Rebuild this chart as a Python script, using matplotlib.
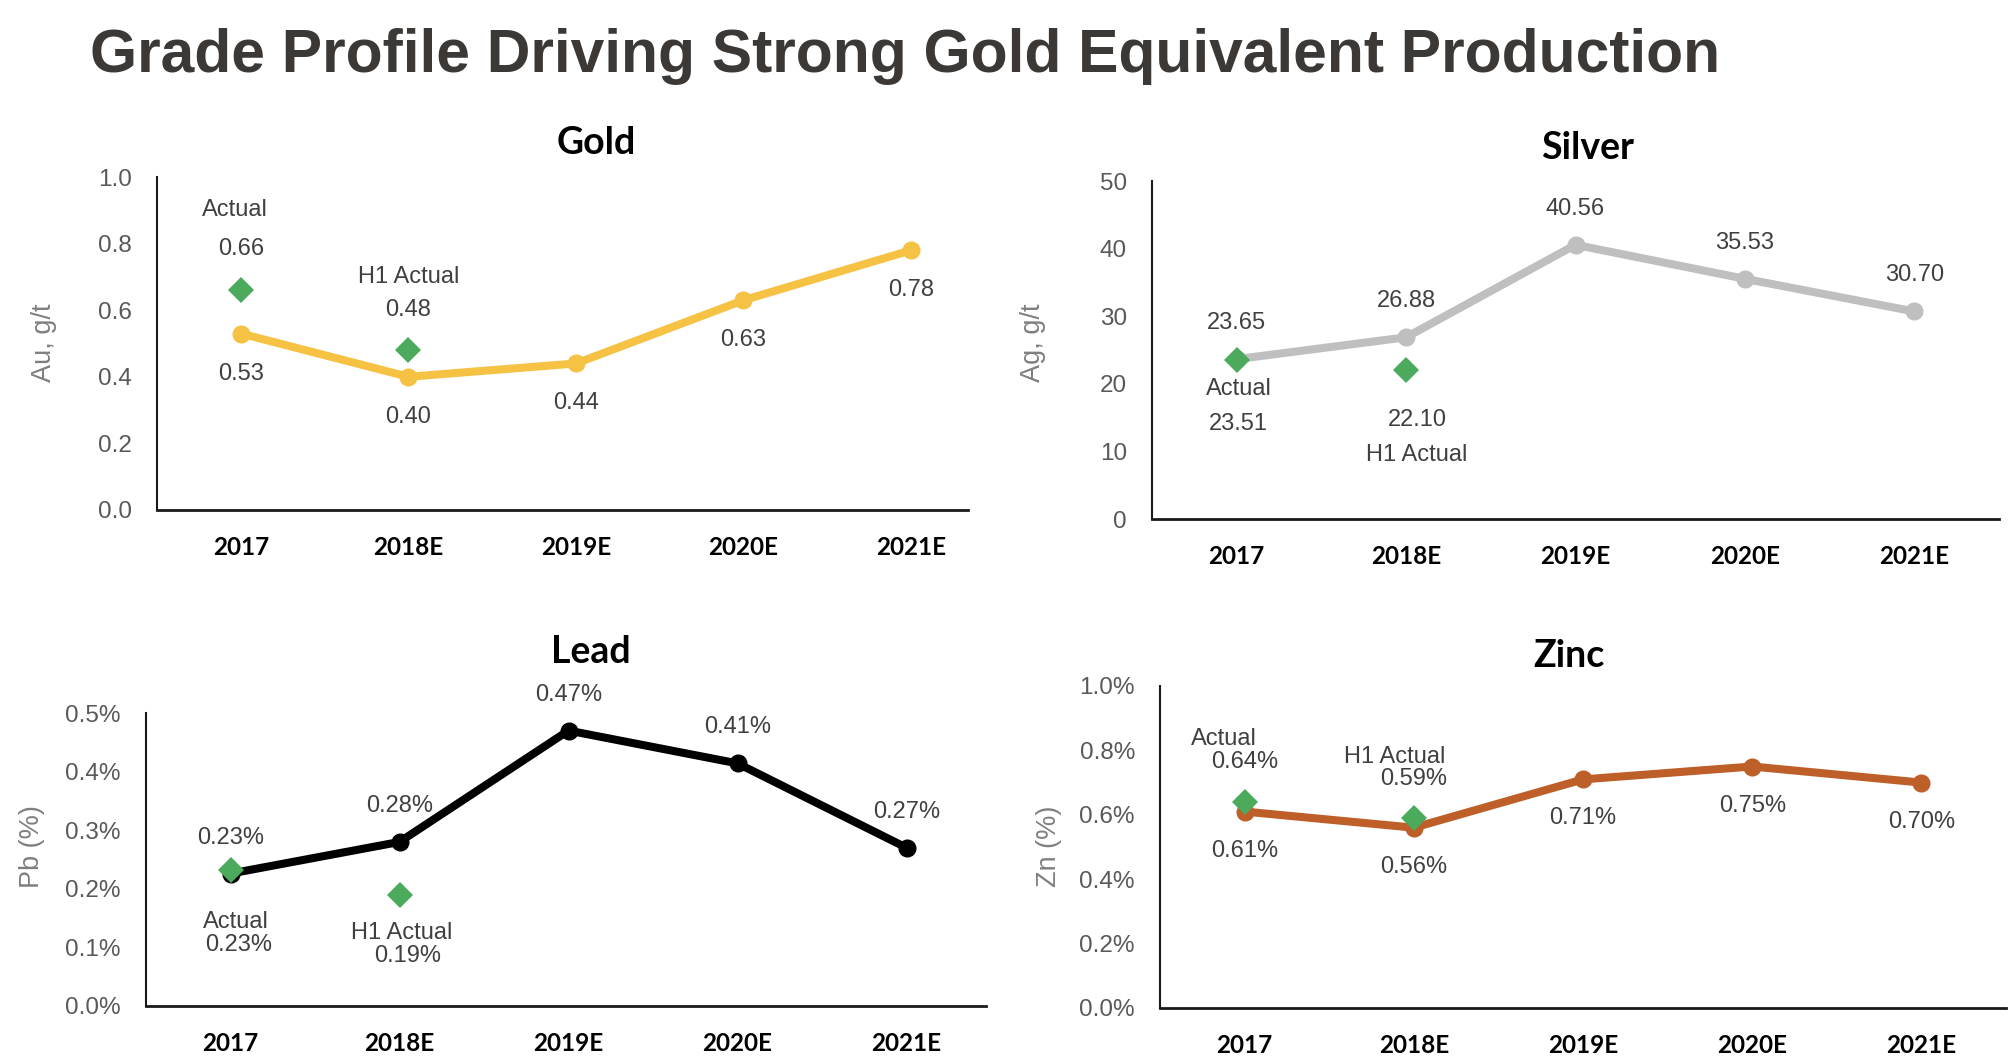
import matplotlib
matplotlib.use('Agg')
import matplotlib.pyplot as plt
from matplotlib.ticker import FixedLocator, FuncFormatter

# ---------------- data ----------------
categories = ['2017', '2018E', '2019E', '2020E', '2021E']

gold_values = [0.53, 0.40, 0.44, 0.63, 0.78]
gold_actual = [0.66, 0.48]

silver_values = [23.65, 26.88, 40.56, 35.53, 30.70]
silver_actual = [23.51, 22.10]

lead_values = [0.226, 0.28, 0.47, 0.414, 0.27]
lead_actual = [0.232, 0.19]

zinc_values = [0.61, 0.56, 0.71, 0.75, 0.70]
zinc_actual = [0.64, 0.59]

actual_names = ['Actual', 'H1 Actual']

gold_yticks = [0.0, 0.2, 0.4, 0.6, 0.8, 1.0]
silver_yticks = [0, 10, 20, 30, 40, 50]
lead_yticks = [0.0, 0.1, 0.2, 0.3, 0.4, 0.5]
zinc_yticks = [0.0, 0.2, 0.4, 0.6, 0.8, 1.0]

# ---------------- style ----------------
W, H = 2014, 1062
fig = plt.figure(figsize=(W / 100, H / 100), dpi=100)
fig.patch.set_facecolor('white')

TITLE_FONT = ['Liberation Sans', 'DejaVu Sans']
SUB_FONT = ['Lato', 'DejaVu Sans']
BODY_FONT = ['Liberation Sans', 'DejaVu Sans']
GREEN = '#4BAA5B'
LABEL_COLOR = '#404040'
TICK_COLOR = '#595959'


def rect(l, r, t, b):
    return [l / W, 1 - b / H, (r - l) / W, (b - t) / H]


fig.text(90 / W, 1 - 72 / H, 'Grade Profile Driving Strong Gold Equivalent Production',
         family=TITLE_FONT, fontweight='bold', fontsize=43.6, color='#3B3835',
         ha='left', va='baseline')

panels = [
    dict(title='Gold', ylabel='Au, g/t', values=gold_values, actual=gold_actual,
         color='#F6C244', yticks=gold_yticks, ylim=(0, 1.0), pct=False, dec=2, tdec=1,
         box=(157, 968, 177, 510), xmax=4.34, title_xy=(596, 143), ylab_xy=(44, 343),
         val_off=[(0, -40)] * 5,
         act_val_off=[(0, 41), (0, 40)], act_name_off=[(-6, 80), (0, 73)]),
    dict(title='Silver', ylabel='Ag, g/t', values=silver_values, actual=silver_actual,
         color='#BFBFBF', yticks=silver_yticks, ylim=(0, 50), pct=False, dec=2, tdec=0,
         box=(1152, 1999, 181, 519), xmax=4.5, title_xy=(1588, 148), ylab_xy=(1033, 343),
         val_off=[(0, 36)] * 5,
         act_val_off=[(2, -64), (11, -50)], act_name_off=[(2, -29), (11, -85)]),
    dict(title='Lead', ylabel='Pb (%)', values=lead_values, actual=lead_actual,
         color='#000000', yticks=lead_yticks, ylim=(0, 0.5), pct=True, dec=2, tdec=1,
         box=(146, 986, 713, 1006), xmax=4.47, title_xy=(591, 652), ylab_xy=(32, 847),
         val_off=[(0, 36)] * 5,
         act_val_off=[(8, -75), (8, -61)], act_name_off=[(5, -52), (2, -38)]),
    dict(title='Zinc', ylabel='Zn (%)', values=zinc_values, actual=zinc_actual,
         color='#BE5F29', yticks=zinc_yticks, ylim=(0, 1.0), pct=True, dec=2, tdec=1,
         box=(1160, 2006, 686, 1008), xmax=4.5, title_xy=(1569, 656), ylab_xy=(1049, 846),
         val_off=[(0, -39)] * 5,
         act_val_off=[(0, 40), (0, 39)], act_name_off=[(-21, 63), (-19, 61)]),
]

for p in panels:
    ax = fig.add_axes(rect(*p['box']))
    x = list(range(len(categories)))
    ax.plot(x, p['values'], color=p['color'], lw=5.8, marker='o', ms=12,
            solid_capstyle='round', zorder=3)
    xa = x[:len(p['actual'])]
    ax.plot(xa, p['actual'], linestyle='none', marker='D', ms=13, color=GREEN,
            mew=0, zorder=4)

    ax.set_xlim(-0.5, p['xmax'])
    ax.set_ylim(*p['ylim'])
    ax.set_xticks(x)
    ax.set_xticklabels(categories, family=SUB_FONT, fontweight='bold', fontsize=17.5,
                       color='#000000')
    ax.yaxis.set_major_locator(FixedLocator(p['yticks']))
    pct = p['pct']
    tdec = p['tdec']
    ax.yaxis.set_major_formatter(FuncFormatter(
        lambda v, pos, pct=pct, tdec=tdec: f"{v:.{tdec}f}" + ('%' if pct else '')))
    for lab in ax.get_yticklabels():
        lab.set_family(BODY_FONT)
        lab.set_fontsize(17.5)
        lab.set_color(TICK_COLOR)
    ax.tick_params(axis='x', length=0, pad=19)
    ax.tick_params(axis='y', length=0, pad=18)
    for s in ['top', 'right']:
        ax.spines[s].set_visible(False)
    ax.spines['left'].set_linewidth(1.5)
    ax.spines['bottom'].set_linewidth(2.0)
    ax.spines['left'].set_color('#1a1a1a')
    ax.spines['bottom'].set_color('#1a1a1a')
    ax.patch.set_alpha(0)

    suffix = '%' if pct else ''
    for i, v in enumerate(p['values']):
        dx, dy = p['val_off'][i]
        ax.annotate(f"{v:.{p['dec']}f}{suffix}", (i, v), xytext=(dx, dy),
                    textcoords='offset pixels', ha='center', va='center',
                    family=BODY_FONT, fontsize=17, color=LABEL_COLOR, zorder=5)
    for i, v in enumerate(p['actual']):
        dx, dy = p['act_val_off'][i]
        ax.annotate(f"{v:.{p['dec']}f}{suffix}", (i, v), xytext=(dx, dy),
                    textcoords='offset pixels', ha='center', va='center',
                    family=BODY_FONT, fontsize=17, color=LABEL_COLOR, zorder=5)
        dx, dy = p['act_name_off'][i]
        ax.annotate(actual_names[i], (i, v), xytext=(dx, dy),
                    textcoords='offset pixels', ha='center', va='center',
                    family=BODY_FONT, fontsize=17, color=LABEL_COLOR, zorder=5)

    tx, ty = p['title_xy']
    fig.text(tx / W, 1 - ty / H, p['title'], family=SUB_FONT, fontweight='bold',
             fontsize=27, color='#000000', ha='center', va='center')
    lx, ly = p['ylab_xy']
    fig.text(lx / W, 1 - ly / H, p['ylabel'], family=BODY_FONT, fontsize=19.5,
             color='#7F7F7F', rotation=90, ha='center', va='center')

fig.savefig('out.png', dpi=100, facecolor='white')
